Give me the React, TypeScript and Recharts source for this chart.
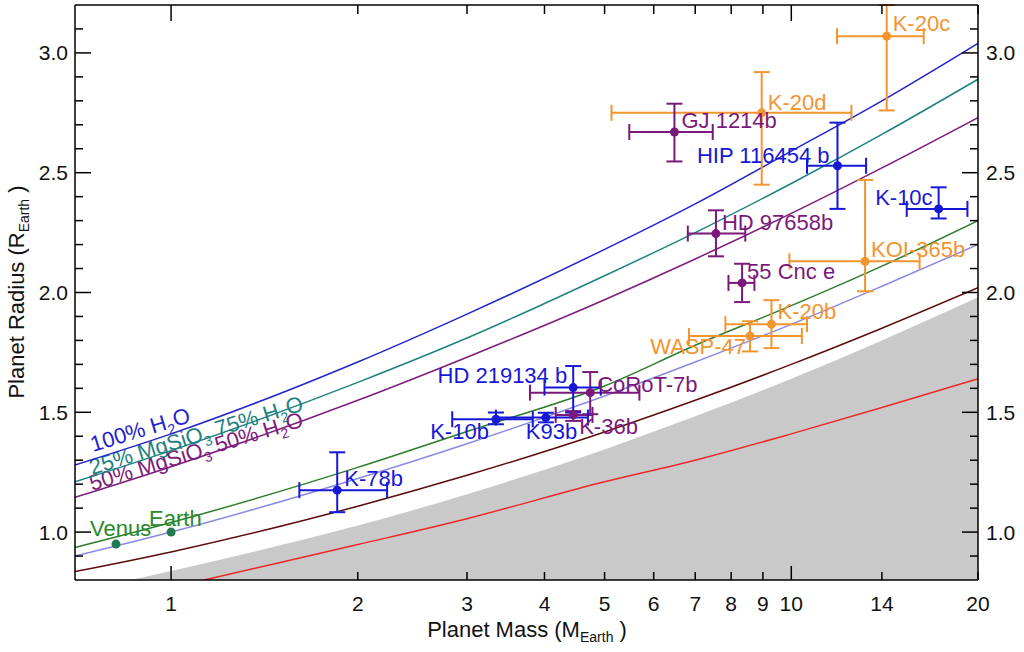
import {
  ComposedChart,
  Line,
  Area,
  Scatter,
  ErrorBar,
  XAxis,
  YAxis,
  Customized,
} from "recharts";

// model curves (mass in Earth masses -> radius in Earth radii)
const curveMass = [0.7, 1, 2, 3, 5, 7, 10, 14, 20];
const water100 = [1.28, 1.41, 1.71, 1.91, 2.18, 2.37, 2.59, 2.8, 3.04];
const water75 = [1.21, 1.34, 1.625, 1.81, 2.07, 2.25, 2.455, 2.66, 2.89];
const water50 = [1.145, 1.273, 1.55, 1.73, 1.97, 2.14, 2.33, 2.52, 2.73];
const silicate = [0.936, 1.04, 1.27, 1.42, 1.61, 1.78, 1.945, 2.11, 2.3];
const earthLike = [0.9, 1.0, 1.224, 1.369, 1.568, 1.71, 1.867, 2.026, 2.2];
const ironRich = [0.835, 0.917, 1.108, 1.237, 1.418, 1.55, 1.7, 1.851, 2.02];

const ironMass = [1.13, 1.5, 2, 3, 5, 7, 10, 14, 20];
const pureIron = [0.8, 0.873, 0.948, 1.056, 1.21, 1.3, 1.41, 1.52, 1.64];

const strippingMass = [0.862, 1, 2, 3, 5, 7, 10, 14, 20];
const strippingLimit = [0.8, 0.838, 1.027, 1.158, 1.345, 1.483, 1.64, 1.8, 1.98];

// axis ticks
const xTicks = [1, 2, 3, 4, 5, 6, 7, 8, 9, 10, 14, 20];
const xMajor = [1, 10];
const yTicks = [
  0.9, 1.0, 1.1, 1.2, 1.3, 1.4, 1.5, 1.6, 1.7, 1.8, 1.9, 2.0, 2.1, 2.2, 2.3,
  2.4, 2.5, 2.6, 2.7, 2.8, 2.9, 3.0, 3.1,
];
const yLabels = [1.0, 1.5, 2.0, 2.5, 3.0];

type Planet = {
  name: string;
  mass: number;
  radius: number;
  massErr?: [number, number];
  radiusErr?: [number, number];
};

const orangePlanets: Planet[] = [
  { name: "K-20c", mass: 14.25, radius: 3.07, massErr: [2.4, 2.1], radiusErr: [0.31, 0.13] },
  { name: "K-20d", mass: 8.96, radius: 2.75, massErr: [3.83, 3.54], radiusErr: [0.3, 0.17] },
  { name: "KOI-365b", mass: 13.15, radius: 2.13, massErr: [3.22, 2.95], radiusErr: [0.125, 0.34] },
  { name: "K-20b", mass: 9.29, radius: 1.868, massErr: [1.46, 1.31], radiusErr: [0.1, 0.1] },
  { name: "WASP-47", mass: 8.58, radius: 1.818, massErr: [1.74, 1.82], radiusErr: [0.064, 0.062] },
];

const bluePlanets: Planet[] = [
  { name: "HIP 116454 b", mass: 11.87, radius: 2.529, massErr: [1.27, 1.33], radiusErr: [0.18, 0.18] },
  { name: "K-10c", mass: 17.28, radius: 2.349, massErr: [1.93, 1.95], radiusErr: [0.04, 0.09] },
  { name: "HD 219134 b", mass: 4.45, radius: 1.603, massErr: [0.45, 0.48], radiusErr: [0.104, 0.09] },
  { name: "K-10b", mass: 3.34, radius: 1.471, massErr: [0.5, 0.49], radiusErr: [0.021, 0.028] },
  { name: "K93b", mass: 4.02, radius: 1.478, massErr: [0.68, 0.68], radiusErr: [0.02, 0.02] },
  { name: "K-78b", mass: 1.853, radius: 1.175, massErr: [0.243, 0.377], radiusErr: [0.092, 0.158] },
];

const purplePlanets: Planet[] = [
  { name: "GJ 1214b", mass: 6.48, radius: 2.67, massErr: [1.0, 0.99], radiusErr: [0.123, 0.118] },
  { name: "HD 97658b", mass: 7.56, radius: 2.246, massErr: [0.75, 0.87], radiusErr: [0.095, 0.097] },
  { name: "55 Cnc e", mass: 8.33, radius: 2.04, massErr: [0.41, 0.39], radiusErr: [0.08, 0.08] },
  { name: "CoRoT-7b", mass: 4.74, radius: 1.582, massErr: [0.95, 0.95], radiusErr: [0.09, 0.086] },
  { name: "K-36b", mass: 4.45, radius: 1.489, massErr: [0.28, 0.33], radiusErr: [0.025, 0.016] },
];

const solarPlanets: Planet[] = [
  { name: "Venus", mass: 0.815, radius: 0.95 },
  { name: "Earth", mass: 1.0, radius: 1.0 },
];

// where each name sits relative to its point (dx, dy to baseline, anchor)
const labelOffsets: Record<string, [number, number, "start" | "end"]> = {
  "K-20c": [6, -5, "start"],
  "K-20d": [6, -3, "start"],
  "KOI-365b": [6, -4, "start"],
  "K-20b": [6, -5, "start"],
  "WASP-47": [-4, 18, "end"],
  "HIP 116454 b": [-8, -3, "end"],
  "K-10c": [-6, -4, "end"],
  "HD 219134 b": [-6, -5, "end"],
  "K-10b": [-7, 20, "end"],
  K93b: [-20, 21, "start"],
  "K-78b": [7, -4, "start"],
  "GJ 1214b": [7, -4, "start"],
  "HD 97658b": [6, -4, "start"],
  "55 Cnc e": [5, -4, "start"],
  "CoRoT-7b": [7, -1, "start"],
  "K-36b": [6, 19, "start"],
  Venus: [-26, -8, "start"],
  Earth: [-22, -6, "start"],
};

const FONT = "'Liberation Sans', Arial, sans-serif";
const BLUE_LINE = "#2424c8";
const TEAL = "#1e8282";
const PURPLE_LINE = "#7d1d7d";
const GREEN_LINE = "#2c7d2c";
const LAVENDER = "#8a8ae4";
const BROWN = "#5c0c0c";
const RED = "#ec2828";
const GREY_FILL = "#c9c9c9";
const ORANGE = "#f29530";
const BLUE_PT = "#1717d6";
const PURPLE_PT = "#7b197b";
const GREEN_TXT = "#2a8a2a";
const GREEN_PT = "#1f7a4f";

const toPoints = (xs: number[], ys: number[]) =>
  xs.map((m, i) => ({ mass: m, radius: ys[i] }));

function makeShape(dotColor: string, textColor: string) {
  return (props: any) => {
    const { cx, cy, payload } = props;
    const [dx, dy, anchor] = labelOffsets[payload.name] ?? [6, -4, "start"];
    return (
      <g>
        <circle cx={cx} cy={cy} r={4.5} fill={dotColor} />
        <text
          x={cx + dx}
          y={cy + dy}
          textAnchor={anchor}
          fill={textColor}
          fontSize={22}
          fontFamily={FONT}
        >
          {payload.name}
        </text>
      </g>
    );
  };
}

const isMajorY = (v: number) => yLabels.some((l) => Math.abs(l - v) < 1e-6);

function BottomTick(props: any) {
  const { x, y, payload } = props;
  const len = xMajor.includes(payload.value) ? 14 : 8;
  return (
    <g>
      <line x1={x} y1={y} x2={x} y2={y - len} stroke="#000" strokeWidth={1.5} />
      <text x={x} y={y + 31} textAnchor="middle" fontSize={21} fontFamily={FONT} fill="#111">
        {payload.value}
      </text>
    </g>
  );
}

function TopTick(props: any) {
  const { x, y, payload } = props;
  const len = xMajor.includes(payload.value) ? 16 : 9;
  return <line x1={x} y1={y} x2={x} y2={y + len} stroke="#000" strokeWidth={1.5} />;
}

function LeftTick(props: any) {
  const { x, y, payload } = props;
  const major = isMajorY(payload.value);
  return (
    <g>
      <line x1={x} y1={y} x2={x + (major ? 16 : 8)} y2={y} stroke="#000" strokeWidth={1.5} />
      {major && (
        <text x={x - 7} y={y} dy="0.36em" textAnchor="end" fontSize={21} fontFamily={FONT} fill="#111">
          {payload.value.toFixed(1)}
        </text>
      )}
    </g>
  );
}

function RightTick(props: any) {
  const { x, y, payload } = props;
  const major = isMajorY(payload.value);
  return (
    <g>
      <line x1={x} y1={y} x2={x - (major ? 16 : 8)} y2={y} stroke="#000" strokeWidth={1.5} />
      {major && (
        <text x={x + 8} y={y} dy="0.36em" textAnchor="start" fontSize={21} fontFamily={FONT} fill="#111">
          {payload.value.toFixed(1)}
        </text>
      )}
    </g>
  );
}

// rotated curve names and axis titles
function Annotations() {
  return (
    <g fontFamily={FONT} fontSize={22}>
      <text transform="translate(93,452) rotate(-17)" fill={BLUE_LINE}>
        100% H<tspan dy={6} fontSize={14}>2</tspan>
        <tspan dy={-6}>O</tspan>
      </text>
      <text transform="translate(92,475) rotate(-17)" fill={TEAL}>
        25% MgSiO<tspan dy={6} fontSize={14}>3</tspan>
        <tspan dy={-6}> 75% H</tspan>
        <tspan dy={6} fontSize={14}>2</tspan>
        <tspan dy={-6}>O</tspan>
      </text>
      <text transform="translate(92,491) rotate(-17)" fill={PURPLE_LINE}>
        50% MgSiO<tspan dy={6} fontSize={14}>3</tspan>
        <tspan dy={-6}> 50% H</tspan>
        <tspan dy={6} fontSize={14}>2</tspan>
        <tspan dy={-6}>O</tspan>
      </text>
      <text x={527} y={637} textAnchor="middle" fill="#111">
        Planet Mass (M<tspan dy={5} fontSize={14}>Earth</tspan>
        <tspan dy={-5}> )</tspan>
      </text>
      <text transform="translate(24,292) rotate(-90)" textAnchor="middle" fill="#111">
        Planet Radius (R<tspan dy={5} fontSize={14}>Earth</tspan>
        <tspan dy={-5}> )</tspan>
      </text>
    </g>
  );
}

const curve = (data: { mass: number; radius: number }[], color: string, key: string) => (
  <Line
    key={key}
    data={data}
    dataKey="radius"
    type="monotone"
    stroke={color}
    strokeWidth={1.5}
    dot={false}
    activeDot={false}
    isAnimationActive={false}
  />
);

function planetSeries(data: Planet[], color: string, key: string) {
  return (
    <Scatter
      key={key}
      data={data}
      dataKey="radius"
      shape={makeShape(color, color)}
      isAnimationActive={false}
    >
      <ErrorBar dataKey="massErr" direction="x" width={8} strokeWidth={2} stroke={color} isAnimationActive={false} />
      <ErrorBar dataKey="radiusErr" direction="y" width={8} strokeWidth={2} stroke={color} isAnimationActive={false} />
    </Scatter>
  );
}

export default function App() {
  const axisLine = { stroke: "#000", strokeWidth: 1.5 };
  return (
    <div style={{ position: "absolute", left: 0, top: 0, width: 1024, height: 652, background: "#fff" }}>
      <ComposedChart width={1024} height={652} margin={{ top: 4, right: 6, bottom: 42, left: 15 }}>
        <XAxis
          dataKey="mass"
          type="number"
          scale="log"
          domain={[0.7, 20]}
          ticks={xTicks}
          interval={0}
          allowDataOverflow
          tickSize={0}
          tickMargin={0}
          tickLine={false}
          axisLine={axisLine}
          height={30}
          tick={BottomTick}
        />
        <XAxis
          xAxisId="top"
          orientation="top"
          dataKey="mass"
          type="number"
          scale="log"
          domain={[0.7, 20]}
          ticks={xTicks}
          interval={0}
          allowDataOverflow
          tickSize={0}
          tickMargin={0}
          tickLine={false}
          axisLine={axisLine}
          height={1}
          tick={TopTick}
        />
        <YAxis
          dataKey="radius"
          type="number"
          domain={[0.8, 3.2]}
          ticks={yTicks}
          interval={0}
          allowDataOverflow
          tickSize={0}
          tickMargin={0}
          tickLine={false}
          axisLine={axisLine}
          width={60}
          tick={LeftTick}
        />
        <YAxis
          yAxisId="right"
          orientation="right"
          dataKey="radius"
          type="number"
          domain={[0.8, 3.2]}
          ticks={yTicks}
          interval={0}
          allowDataOverflow
          tickSize={0}
          tickMargin={0}
          tickLine={false}
          axisLine={axisLine}
          width={40}
          tick={RightTick}
        />

        <Area
          data={toPoints(strippingMass, strippingLimit)}
          dataKey="radius"
          type="monotone"
          baseValue="dataMin"
          fill={GREY_FILL}
          fillOpacity={1}
          stroke="none"
          activeDot={false}
          isAnimationActive={false}
        />

        {curve(toPoints(curveMass, water100), BLUE_LINE, "w100")}
        {curve(toPoints(curveMass, water75), TEAL, "w75")}
        {curve(toPoints(curveMass, water50), PURPLE_LINE, "w50")}
        {curve(toPoints(curveMass, silicate), GREEN_LINE, "rock")}
        {curve(toPoints(curveMass, earthLike), LAVENDER, "earth")}
        {curve(toPoints(curveMass, ironRich), BROWN, "fe50")}
        {curve(toPoints(ironMass, pureIron), RED, "fe100")}

        {planetSeries(orangePlanets, ORANGE, "orange")}
        {planetSeries(purplePlanets, PURPLE_PT, "purple")}
        {planetSeries(bluePlanets, BLUE_PT, "blue")}
        <Scatter
          data={solarPlanets}
          dataKey="radius"
          shape={makeShape(GREEN_PT, GREEN_TXT)}
          isAnimationActive={false}
        />

        <Customized component={<Annotations />} />
      </ComposedChart>
    </div>
  );
}
